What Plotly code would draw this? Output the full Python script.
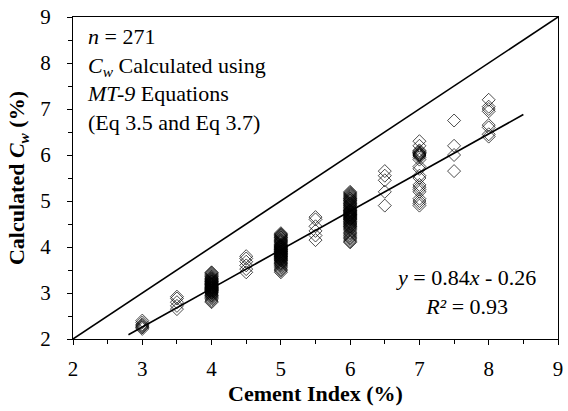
import plotly.graph_objects as go

# Cement index categories and calculated Cw values (%)
y_30 = [2.22, 2.25, 2.26, 2.28, 2.30, 2.32, 2.36, 2.40]
y_35 = [2.65, 2.72, 2.80, 2.88, 2.92]
y_40 = [2.80, 2.82, 2.85, 2.88, 2.90, 2.92, 2.94, 2.95, 2.96, 2.98,
        3.00, 3.00, 3.01, 3.02, 3.03, 3.04, 3.05, 3.05, 3.06, 3.07,
        3.08, 3.08, 3.09, 3.10, 3.10, 3.11, 3.12, 3.12, 3.13, 3.14,
        3.15, 3.15, 3.16, 3.17, 3.18, 3.18, 3.19, 3.20, 3.20, 3.21,
        3.22, 3.23, 3.24, 3.25, 3.25, 3.26, 3.27, 3.28, 3.29, 3.30,
        3.31, 3.32, 3.33, 3.35, 3.36, 3.38, 3.40, 3.42, 3.44, 3.45]
y_45 = [3.45, 3.52, 3.60, 3.68, 3.75, 3.80]
y_50 = [3.45, 3.48, 3.50, 3.52, 3.55, 3.58, 3.60, 3.62, 3.64, 3.65,
        3.66, 3.68, 3.70, 3.71, 3.72, 3.73, 3.74, 3.75, 3.76, 3.77,
        3.78, 3.79, 3.80, 3.80, 3.81, 3.82, 3.83, 3.84, 3.85, 3.85,
        3.86, 3.87, 3.88, 3.89, 3.90, 3.90, 3.91, 3.92, 3.93, 3.94,
        3.95, 3.95, 3.96, 3.97, 3.98, 3.99, 4.00, 4.00, 4.01, 4.02,
        4.03, 4.04, 4.05, 4.06, 4.08, 4.10, 4.11, 4.12, 4.14, 4.15,
        4.16, 4.18, 4.20, 4.21, 4.22, 4.24, 4.25, 4.27, 4.28, 4.30]
y_55 = [4.15, 4.25, 4.35, 4.45, 4.60, 4.65]
y_60 = [4.10, 4.12, 4.15, 4.18, 4.20, 4.22, 4.25, 4.28, 4.30, 4.32,
        4.35, 4.38, 4.40, 4.42, 4.44, 4.45, 4.46, 4.48, 4.50, 4.50,
        4.52, 4.53, 4.55, 4.56, 4.58, 4.60, 4.60, 4.61, 4.62, 4.63,
        4.64, 4.65, 4.66, 4.67, 4.68, 4.69, 4.70, 4.70, 4.71, 4.72,
        4.73, 4.74, 4.75, 4.76, 4.77, 4.78, 4.79, 4.80, 4.80, 4.82,
        4.83, 4.85, 4.86, 4.88, 4.90, 4.91, 4.92, 4.94, 4.95, 4.96,
        4.98, 5.00, 5.01, 5.02, 5.04, 5.05, 5.06, 5.08, 5.10, 5.12,
        5.14, 5.16, 5.18, 5.20]
y_65 = [4.90, 5.20, 5.45, 5.55, 5.65]
y_70 = [4.90, 4.95, 5.00, 5.05, 5.20, 5.25, 5.30, 5.35, 5.50, 5.55,
        5.70, 5.75, 5.90, 5.95, 5.98, 6.00, 6.00, 6.02, 6.03, 6.05,
        6.05, 6.08, 6.10, 6.20, 6.30]
y_75 = [5.65, 6.00, 6.20, 6.75]
y_80 = [6.40, 6.45, 6.60, 6.65, 6.95, 7.00, 7.05, 7.20]

groups = {3.0: y_30, 3.5: y_35, 4.0: y_40, 4.5: y_45, 5.0: y_50, 5.5: y_55,
          6.0: y_60, 6.5: y_65, 7.0: y_70, 7.5: y_75, 8.0: y_80}

# Regression and 1:1 line
slope, intercept = 0.84, -0.26
fit_x = [2.8, 8.5]
line_x = [2, 9]

xs, ys = [], []
for k, v in groups.items():
    xs += [k] * len(v)
    ys += v

font = "Liberation Serif"
FS = 21
FT = 22

fig = go.Figure()
fig.add_trace(go.Scatter(x=line_x, y=line_x, mode="lines",
                         line=dict(color="black", width=1.6), hoverinfo="skip"))
fig.add_trace(go.Scatter(x=xs, y=ys, mode="markers",
                         marker=dict(symbol="diamond-open", size=10,
                                     color="rgba(0,0,0,0.7)", line=dict(width=1))))
fig.add_trace(go.Scatter(x=fit_x, y=[slope * x + intercept for x in fit_x], mode="lines",
                         line=dict(color="black", width=1.6), hoverinfo="skip"))

axis_common = dict(showline=True, linecolor="black", linewidth=1, mirror=True,
                   ticks="outside", ticklen=5, tickcolor="black", showgrid=False,
                   zeroline=False, dtick=1,
                   tickfont=dict(family=font, size=FS, color="black"),
                   minor=dict(ticks="outside", ticklen=4, dtick=0.5, tickcolor="black"))

fig.update_xaxes(range=[2, 9], tick0=2, ticklabelstandoff=6,
                 title=dict(text="<b>Cement Index (%)</b>", standoff=5,
                            font=dict(family=font, size=FT, color="black")),
                 **axis_common)
fig.update_yaxes(range=[2, 9], tick0=2, ticklabelstandoff=12,
                 title=dict(text="<b>Calculated <i>C<sub>w</sub></i> (%)</b>", standoff=9,
                            font=dict(family=font, size=FT, color="black")),
                 **axis_common)

fig.add_annotation(xref="paper", yref="paper", x=0.025, y=0.985, xanchor="left", yanchor="top",
                   align="left", showarrow=False,
                   text="<i>n</i> = 271<br><i>C<sub>w</sub></i> Calculated using<br>"
                        "<i>MT-9</i> Equations<br>(Eq 3.5 and Eq 3.7)",
                   font=dict(family=font, size=22, color="black"))
fig.add_annotation(xref="paper", yref="paper", x=0.81, y=0.145, xanchor="center", yanchor="middle",
                   align="center", showarrow=False,
                   text="<i>y</i> = 0.84<i>x</i> - 0.26<br><i>R²</i> = 0.93",
                   font=dict(family=font, size=22, color="black"))

fig.update_layout(width=568, height=411, margin=dict(l=73, r=5, t=13, b=72),
                  paper_bgcolor="white", plot_bgcolor="white", showlegend=False,
                  font=dict(family=font, color="black"))

fig.write_html("out.html")
